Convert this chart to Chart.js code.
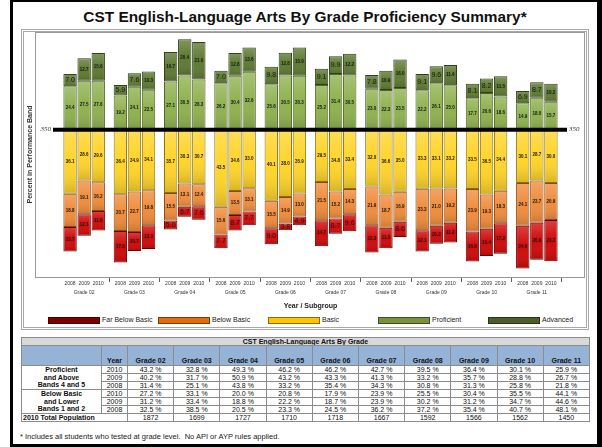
<!DOCTYPE html>
<html>
<head>
<meta charset="utf-8">
<script src="https://cdn.jsdelivr.net/npm/chart.js@4.4.1/dist/chart.umd.min.js"></script>
<style>
  html, body { margin: 0; padding: 0; background: #fff; }
  body { width: 602px; height: 447px; position: relative; overflow: hidden; font-family: "Liberation Sans", Arial, sans-serif; }
  #page { position: absolute; left: 10px; top: 0; width: 592px; height: 447px; box-sizing: border-box;
          border-left: 3px solid #000; border-top: 2px solid #000; border-right: 5px solid #000; border-bottom: 3px solid #000; }
  #title { position: absolute; left: 4px; width: 602px; top: 7px; text-align: center; font: bold 15.4px "Liberation Sans", Arial, sans-serif; line-height: 20px; color: #111; }
  #frame { position: absolute; left: 21px; top: 29px; width: 568px; height: 301px; box-sizing: border-box; border: 3px double #a8a8a8; }
  #chartBox { position: absolute; left: 22px; top: 30px; width: 567px; height: 280px; }
  #legend { position: absolute; left: 48px; top: 316px; display: flex; }
  #legend .item { width: 110px; display: flex; align-items: center; font-size: 7px; color: #222; line-height: 8px; }
  #legend .swatch { width: 52px; height: 7px; box-sizing: border-box; border: 1px solid rgba(0,0,0,0.45); margin-right: 2px; }
  #tbl { position: absolute; left: 21px; top: 337px; width: 568px; border-collapse: collapse; table-layout: fixed;
         font: 7px "Liberation Sans", Arial, sans-serif; color: #111; }
  #tbl td { border: 1px solid #8c8c8c; padding: 0; text-align: center; white-space: nowrap; overflow: hidden; line-height: 7px; }
  #tbl tr.ttl td { background: #d9d9d9; font-weight: bold; height: 7px; }
  #tbl tr.hdr td { background: #95b3d7; font-weight: bold; height: 18px; vertical-align: bottom; padding-bottom: 1px; }
  #tbl tr.row td { height: 7px; }
  #tbl td.lab { font-weight: bold; line-height: 7.5px; white-space: normal; }
  #tbl tr.sep td { border-top: 1px solid #000; }
  #tbl td.pop { text-align: left; font-weight: bold; padding-left: 1px; }
  #note { position: absolute; left: 20px; top: 432px; font-size: 7.5px; color: #222; white-space: nowrap; }
</style>
</head>
<body>
<div id="page"></div>
<div id="title">CST English-Language Arts By Grade Proficiency Summary*</div>
<div id="frame"></div>
<div id="chartBox"><canvas id="gradeChart" width="567" height="280"></canvas></div>
<div id="legend"></div>
<table id="tbl"></table>
<div id="note">* Includes all students who tested at grade level.&nbsp; No API or AYP rules applied.</div>

<script>
const GRADES = ['Grade 02', 'Grade 03', 'Grade 04', 'Grade 05', 'Grade 06', 'Grade 07', 'Grade 08', 'Grade 09', 'Grade 10', 'Grade 11'];
const YEARS = ['2008', '2009', '2010'];

// percent of students in each band, one array per year (grade order as above)
const advanced = {
    2008: [7.0, 5.9, 16.7, 7.0, 9.8, 9.1, 7.8, 9.1, 8.1, 6.9],
    2009: [12.7, 7.6, 20.4, 12.8, 12.8, 9.9, 10.9, 9.6, 8.2, 8.7],
    2010: [15.6, 10.3, 21.0, 13.6, 15.9, 12.2, 16.0, 11.4, 11.5, 10.2]
};
const proficient = {
    2008: [24.4, 19.2, 27.1, 26.2, 25.6, 25.2, 23.0, 22.2, 17.7, 14.9],
    2009: [27.5, 24.1, 30.5, 30.4, 30.5, 31.4, 22.3, 26.1, 20.6, 18.0],
    2010: [27.6, 22.5, 28.3, 32.6, 30.3, 30.5, 23.5, 25.0, 18.6, 15.7]
};
const basic = {
    2008: [36.1, 36.4, 35.7, 43.5, 40.1, 29.5, 32.0, 33.3, 33.5, 30.1],
    2009: [28.6, 34.9, 30.3, 34.6, 38.0, 34.8, 36.6, 33.1, 36.5, 28.7],
    2010: [29.6, 34.1, 30.7, 33.0, 35.9, 33.4, 35.0, 33.2, 34.4, 30.0]
};
const belowBasic = {
    2008: [18.8, 20.7, 15.5, 15.6, 15.5, 21.5, 21.9, 23.3, 23.9, 24.1],
    2009: [19.1, 22.7, 13.1, 13.5, 14.9, 15.2, 18.7, 21.0, 19.3, 23.7],
    2010: [16.2, 19.8, 12.4, 13.1, 13.0, 14.3, 16.9, 19.2, 18.3, 20.9]
};
const farBelowBasic = {
    2008: [13.7, 17.8, 5.0, 7.7, 9.0, 14.7, 15.3, 12.1, 16.8, 24.0],
    2009: [12.1, 10.7, 5.7, 8.7, 3.8, 8.7, 11.5, 10.2, 15.4, 20.9],
    2010: [11.0, 13.3, 7.6, 7.7, 4.9, 9.6, 8.6, 11.2, 17.2, 23.2]
};
const population2010 = [1872, 1699, 1727, 1710, 1718, 1667, 1592, 1566, 1562, 1450];
const CUT_SCORE = '350';

// stacking order: bands below the cut grow downward from it, the rest upward
const BANDS = [
    { label: 'Basic', values: basic, sign: -1 },
    { label: 'Below Basic', values: belowBasic, sign: -1 },
    { label: 'Far Below Basic', values: farBelowBasic, sign: -1 },
    { label: 'Proficient', values: proficient, sign: 1 },
    { label: 'Advanced', values: advanced, sign: 1 }
];
const LEGEND_ORDER = ['Far Below Basic', 'Below Basic', 'Basic', 'Proficient', 'Advanced'];

const barColors = {
    'Far Below Basic': '#cf0a0a',
    'Below Basic': '#ef8c3c',
    'Basic': '#ffd42a',
    'Proficient': '#8fb14f',
    'Advanced': '#5e7a32'
};
const edgeColors = {
    'Far Below Basic': '#6b0000',
    'Below Basic': '#8a4a14',
    'Basic': '#8a7212',
    'Proficient': '#4e6628',
    'Advanced': '#2f3f18'
};
const legendColors = {
    'Far Below Basic': '#7f0000',
    'Below Basic': '#e36c09',
    'Basic': '#ffc400',
    'Proficient': '#76923c',
    'Advanced': '#4a5e27'
};

const datasets = [];
YEARS.forEach(year => {
    BANDS.forEach(band => {
        datasets.push({
            label: band.label,
            stack: year,
            data: band.values[year].map(v => band.sign * v),
            backgroundColor: barColors[band.label],
            borderColor: edgeColors[band.label],
            borderWidth: 1,
            borderSkipped: false,
            barPercentage: 0.95,
            categoryPercentage: 0.84
        });
    });
});

const FONT = '"Liberation Sans", Arial, sans-serif';

// gray box round the plot, a bit wider than the category range
const plotFrame = {
    id: 'plotFrame',
    beforeDatasetsDraw(chart) {
        const { ctx, chartArea: a } = chart;
        ctx.save();
        ctx.strokeStyle = '#999';
        ctx.lineWidth = 1;
        ctx.strokeRect(a.left - 23.5, a.top + 0.5, a.right - a.left + 46, a.bottom - a.top);
        ctx.restore();
    }
};

// light top / dark bottom shading on every bar segment
const barShade = {
    id: 'barShade',
    afterDatasetDraw(chart, args) {
        const ctx = chart.ctx;
        ctx.save();
        args.meta.data.forEach(bar => {
            const top = Math.min(bar.y, bar.base);
            const bottom = Math.max(bar.y, bar.base);
            if (bottom - top < 2) return;
            const g = ctx.createLinearGradient(0, top, 0, bottom);
            g.addColorStop(0, 'rgba(255,255,255,0.22)');
            g.addColorStop(0.5, 'rgba(255,255,255,0)');
            g.addColorStop(1, 'rgba(0,0,0,0.16)');
            ctx.fillStyle = g;
            ctx.fillRect(bar.x - bar.width / 2 + 1, top + 1, bar.width - 2, bottom - top - 2);
        });
        ctx.restore();
    }
};

const segmentLabels = {
    id: 'segmentLabels',
    afterDatasetsDraw(chart) {
        const ctx = chart.ctx;
        ctx.save();
        ctx.textAlign = 'center';
        ctx.textBaseline = 'middle';
        ctx.fillStyle = '#1a1a1a';
        chart.data.datasets.forEach((ds, i) => {
            chart.getDatasetMeta(i).data.forEach((bar, j) => {
                const v = Math.abs(ds.data[j]);
                ctx.font = v < 10 ? '7px ' + FONT : 'bold 4.5px ' + FONT;
                ctx.fillText(v.toFixed(1), bar.x, (bar.y + bar.base) / 2);
            });
        });
        ctx.restore();
    }
};

// thick cut-score line with its label at both ends
const cutLine = {
    id: 'cutLine',
    afterDatasetsDraw(chart) {
        const { ctx, chartArea: a, scales: { y } } = chart;
        const py = y.getPixelForValue(0);
        ctx.save();
        ctx.strokeStyle = '#000';
        ctx.lineWidth = 4;
        ctx.beginPath();
        ctx.moveTo(a.left - 6, py);
        ctx.lineTo(a.right + 5, py);
        ctx.stroke();
        ctx.font = 'italic 7px "Liberation Serif", serif';
        ctx.fillStyle = '#333';
        ctx.textBaseline = 'middle';
        ctx.textAlign = 'right';
        ctx.fillText(CUT_SCORE, a.left - 8, py);
        ctx.textAlign = 'left';
        ctx.fillText(CUT_SCORE, a.right + 7, py);
        ctx.restore();
    }
};

// year under every bar, taken from the bar positions
const yearLabels = {
    id: 'yearLabels',
    afterDraw(chart) {
        const { ctx, chartArea: a } = chart;
        ctx.save();
        ctx.font = '5px ' + FONT;
        ctx.fillStyle = '#333';
        ctx.textAlign = 'center';
        ctx.textBaseline = 'middle';
        chart.data.datasets.forEach((ds, i) => {
            if (ds.label !== 'Basic') return;
            chart.getDatasetMeta(i).data.forEach(bar => ctx.fillText(ds.stack, bar.x, a.bottom + 7));
        });
        ctx.restore();
    }
};

const ctx = document.getElementById('gradeChart').getContext('2d');
new Chart(ctx, {
    type: 'bar',
    data: { labels: GRADES, datasets: datasets },
    options: {
        responsive: false,
        animation: false,
        devicePixelRatio: 1,
        layout: { padding: { left: 0, right: 27, top: 2, bottom: 0 } },
        plugins: {
            legend: { display: false },
            tooltip: { enabled: false }
        },
        scales: {
            x: {
                stacked: true,
                grid: {
                    offset: true,
                    drawOnChartArea: false,
                    drawTicks: true,
                    tickLength: 5,
                    color: c => (c.index === 0 || c.index === GRADES.length) ? 'rgba(0,0,0,0)' : '#666'
                },
                border: { display: false },
                ticks: { font: { size: 5, family: FONT }, color: '#333', padding: 8, maxRotation: 0, autoSkip: false },
                title: { display: true, text: 'Year / Subgroup', font: { size: 7, weight: 'bold', family: FONT }, color: '#222', padding: 0 },
                afterFit(scale) { scale.height = 33; }
            },
            y: {
                stacked: true,
                min: -83,
                max: 55,
                grid: { display: false },
                border: { display: false },
                ticks: { display: false },
                title: { display: true, text: 'Percent in Performance Band', font: { size: 7, weight: 'bold', family: FONT }, color: '#333' },
                afterFit(scale) { scale.width = 37; }
            }
        }
    },
    plugins: [plotFrame, barShade, segmentLabels, cutLine, yearLabels]
});

// legend in fixed columns
const legendEl = document.getElementById('legend');
LEGEND_ORDER.forEach(name => {
    const item = document.createElement('div');
    item.className = 'item';
    const sw = document.createElement('div');
    sw.className = 'swatch';
    sw.style.background = legendColors[name];
    item.appendChild(sw);
    item.appendChild(document.createTextNode(name));
    legendEl.appendChild(item);
});

// summary table built from the same band arrays
const tbl = document.getElementById('tbl');
let html = '<colgroup><col style="width:80px"><col style="width:26px">' +
    GRADES.map(() => '<col style="width:46.2px">').join('') + '</colgroup>';
html += '<tr class="ttl"><td colspan="' + (GRADES.length + 2) + '">CST English-Language Arts By Grade</td></tr>';
html += '<tr class="hdr"><td></td><td>Year</td>' + GRADES.map(g => '<td>' + g + '</td>').join('') + '</tr>';
const yearsDesc = YEARS.slice().reverse();
const pct = v => v.toFixed(1) + ' %';
yearsDesc.forEach((year, r) => {
    html += '<tr class="row">';
    if (r === 0) html += '<td class="lab" rowspan="3">Proficient<br>and Above<br>Bands 4 and 5</td>';
    html += '<td>' + year + '</td>';
    html += GRADES.map((g, i) => '<td>' + pct(proficient[year][i] + advanced[year][i]) + '</td>').join('');
    html += '</tr>';
});
yearsDesc.forEach((year, r) => {
    html += '<tr class="row' + (r === 0 ? ' sep' : '') + '">';
    if (r === 0) html += '<td class="lab" rowspan="3">Below Basic<br>and Lower<br>Bands 1 and 2</td>';
    html += '<td>' + year + '</td>';
    html += GRADES.map((g, i) => '<td>' + pct(belowBasic[year][i] + farBelowBasic[year][i]) + '</td>').join('');
    html += '</tr>';
});
html += '<tr class="row"><td class="pop" colspan="2">2010 Total Population</td>' +
    population2010.map(p => '<td>' + p + '</td>').join('') + '</tr>';
tbl.innerHTML = html;
</script>
</body>
</html>
